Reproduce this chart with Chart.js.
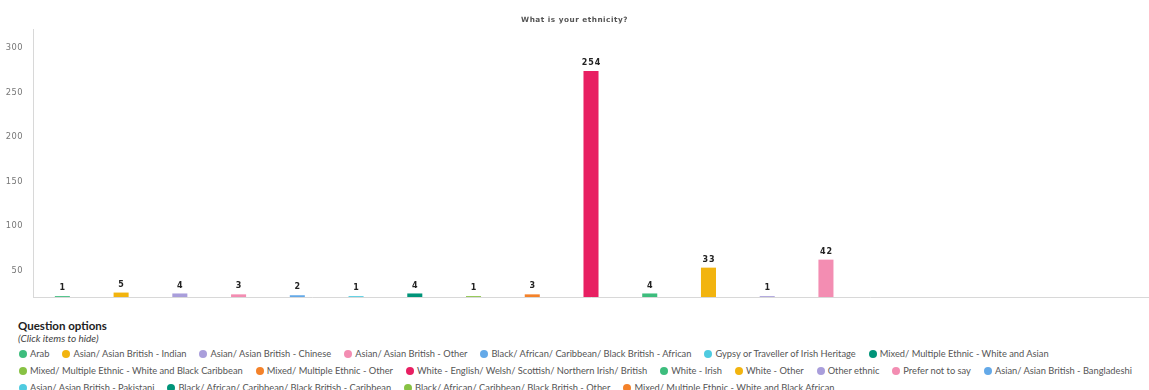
<!DOCTYPE html>
<html>
<head>
<meta charset="utf-8">
<script src="https://cdn.jsdelivr.net/npm/chart.js@4/dist/chart.umd.min.js"></script>
<style>
  body { margin: 0; background: #fff; font-family: Lato, "Noto Sans", sans-serif; }
  #wrap { position: relative; width: 1149px; height: 302px; }
  #legend { padding: 18px 0 0 18px; color: #555; }
  #legend h4 { margin: 0; font-size: 11.5px; font-weight: bold; color: #222; line-height: 12px; }
  #legend .hint { font-style: italic; font-size: 10px; line-height: 12px; color: #444; margin-bottom: 1px; }
  #legend .row { display: flex; white-space: nowrap; height: 17px; align-items: center; }
  #legend .item { display: flex; align-items: center; font-size: 9.3px; margin-right: 12px; cursor: pointer; }
  #legend .dot { width: 8px; height: 8px; border-radius: 50%; margin-right: 3px; margin-left: 1px; }
  #legend .item.off { opacity: 0.35; }
</style>
</head>
<body>
<div id="wrap"><canvas id="bar-chart"></canvas></div>
<div id="legend"></div>
<script>
/* chart data */
var categories = [
  "Arab",
  "Asian/ Asian British - Indian",
  "Asian/ Asian British - Chinese",
  "Asian/ Asian British - Other",
  "Black/ African/ Caribbean/ Black British - African",
  "Gypsy or Traveller of Irish Heritage",
  "Mixed/ Multiple Ethnic - White and Asian",
  "Mixed/ Multiple Ethnic - White and Black Caribbean",
  "Mixed/ Multiple Ethnic - Other",
  "White - English/ Welsh/ Scottish/ Northern Irish/ British",
  "White - Irish",
  "White - Other",
  "Other ethnic",
  "Prefer not to say",
  "Asian/ Asian British - Bangladeshi",
  "Asian/ Asian British - Pakistani",
  "Black/ African/ Caribbean/ Black British - Caribbean",
  "Black/ African/ Caribbean/ Black British - Other",
  "Mixed/ Multiple Ethnic - White and Black African"
];
var responses = [1, 5, 4, 3, 2, 1, 4, 1, 3, 254, 4, 33, 1, 42, 0, 0, 0, 0, 0];
var yTicks = [50, 100, 150, 200, 250, 300];
var palette = ["#3dbd7d", "#f2b40f", "#a99edb", "#f38db2", "#64a9e8", "#4fcbe0", "#009479", "#88c244", "#f4822a", "#e81f62"];
var legendRows = [7, 8, 4]; // items per legend row

var colors = categories.map(function(c, i) { return palette[i % palette.length]; });

// spaced lettering for axis + title text
var spacing = {
  id: 'spacing',
  beforeDraw: function(chart) { chart.ctx.letterSpacing = '0.5px'; }
};

// value labels above the bars
var valueLabels = {
  id: 'valueLabels',
  afterDatasetsDraw: function(chart) {
    var ctx = chart.ctx;
    var meta = chart.getDatasetMeta(0);
    ctx.save();
    ctx.font = "bold 8px 'DejaVu Sans'";
    ctx.fillStyle = "#222";
    ctx.textAlign = "center";
    ctx.textBaseline = "middle";
    ctx.letterSpacing = "1px";
    meta.data.forEach(function(bar, i) {
      var v = chart.data.datasets[0].data[i];
      if (!v || !chart.getDataVisibility(i)) return;
      ctx.fillText(String(v), bar.x + 0.5, bar.y - 8);
    });
    ctx.restore();
  }
};

var chart = new Chart(document.getElementById("bar-chart"), {
  type: 'bar',
  data: {
    labels: categories,
    datasets: [{
      data: responses,
      backgroundColor: colors,
      barPercentage: 0.32,
      categoryPercentage: 0.8
    }]
  },
  options: {
    responsive: true,
    maintainAspectRatio: false,
    animation: false,
    layout: { padding: { left: 0, right: 0, top: 0, bottom: 2 } },
    plugins: {
      legend: { display: false },
      tooltip: { enabled: true },
      title: {
        display: true,
        text: 'What is your ethnicity?',
        color: '#555',
        font: { family: 'DejaVu Sans', size: 7.3, weight: 'bold' },
        padding: { top: 16, bottom: 5.2 }
      }
    },
    scales: {
      x: {
        afterFit: function(s) { s.height = 0; },
        grid: { display: false, drawTicks: false },
        ticks: { display: false },
        border: { display: true, color: '#d8d8d8', width: 1 }
      },
      y: {
        min: 0,
        max: 300,
        afterFit: function(s) { s.width = 33; },
        afterBuildTicks: function(s) {
          s.ticks = [0].concat(yTicks).map(function(v) { return { value: v }; });
        },
        grid: { display: false, drawTicks: true, tickLength: 10 },
        border: { display: true, color: '#d8d8d8', width: 1 },
        ticks: {
          padding: 0,
          labelOffset: 18,
          color: '#777',
          font: { family: 'DejaVu Sans', size: 8.3 },
          callback: function(v) { return v === 0 ? '' : v; }
        }
      }
    }
  },
  plugins: [spacing, valueLabels]
});

// html legend
var legend = document.getElementById('legend');
legend.innerHTML = '<h4>Question options</h4><div class="hint">(Click items to hide)</div>';
var idx = 0;
legendRows.forEach(function(n) {
  var row = document.createElement('div');
  row.className = 'row';
  for (var k = 0; k < n; k++, idx++) {
    var item = document.createElement('div');
    item.className = 'item';
    item.dataset.i = idx;
    item.innerHTML = '<span class="dot" style="background:' + colors[idx] + '"></span>' + categories[idx];
    item.addEventListener('click', function() {
      var i = Number(this.dataset.i);
      chart.toggleDataVisibility(i);
      this.classList.toggle('off');
      chart.update();
    });
    row.appendChild(item);
  }
  legend.appendChild(row);
});
</script>
</body>
</html>
